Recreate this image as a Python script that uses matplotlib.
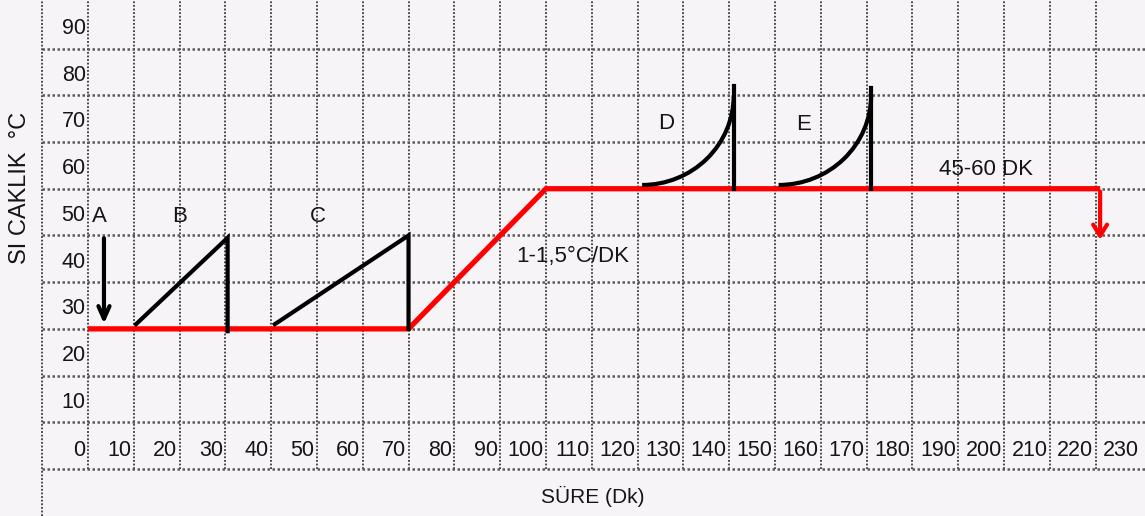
import numpy as np
import matplotlib.pyplot as plt
from matplotlib.patches import Arc

plt.rcParams['font.family'] = ['Liberation Sans', 'DejaVu Sans']

# eksen degerleri
x_ticks = list(range(0, 240, 10))
y_ticks = list(range(0, 100, 10))

# kirmizi ana egri (sure, sicaklik)
red_t = [0, 70, 100, 221]
red_T = [30, 30, 60, 60]
red_arrow = (221, 60, 48.5)  # t, baslangic, bitis

# A oku
a_arrow = (3.5, 50, 30.5)

# B ve C rampalari: (t0, T0, t1, T1, alt)
ramps = [(10.5, 31, 30.5, 49.5, 29.5),
         (40.8, 31, 70, 50, 30)]

# D ve E egrileri: (t0, T0, genislik, yukseklik, ust)
curves = [(121, 60.8, 20, 19.2, 82),
          (150.8, 60.8, 20.2, 19.2, 81.5)]

labels = [('A', 2.6, 54), ('B', 20.1, 54), ('C', 50.2, 54),
          ('D', 126.2, 73.9), ('E', 156.3, 73.7),
          ('1-1,5°C/DK', 105.9, 45.4), ('45-60 DK', 196, 64.2)]

bg = '#f6f4f7'
txt = '#151515'

fig = plt.figure(figsize=(11.45, 5.16), dpi=100, facecolor=bg)
ax = fig.add_axes([0, 0, 1, 1])
ax.set_facecolor(bg)
ax.set_xlim(-19.2, 230.8)
ax.set_ylim(-10.06, 100.4)
ax.axis('off')

# tablo cizgileri
for t in [-10] + x_ticks[:-1]:
    ybot = -10.06 if t == -10 else 0
    ax.plot([t, t], [ybot, 100.4], color='#3a3a3a', lw=1.3,
            ls=(0, (1, 1)), zorder=1)
for T in y_ticks:
    ax.plot([-10, 230.8], [T, T], color='#5a5a5a', lw=1.8,
            ls=(0, (1, 1)), zorder=1)

# etiketler
for T in y_ticks[1:]:
    ax.text(-0.5, T + 4.3, str(T), ha='right', va='center',
            fontsize=15.5, color=txt)
for t in x_ticks:
    ax.text(t - 0.5, 3.9, str(t), ha='right', va='center',
            fontsize=15.5, color=txt)

ax.text(110.3, -5.8, 'SÜRE (Dk)', ha='center', va='center',
        fontsize=15, color=txt)
ax.text(-14.9, 60.2, 'SI CAKLIK  °C', ha='center', va='center',
        rotation=90, fontsize=17, color=txt)

# kirmizi egri
ax.plot(red_t, red_T, color='#ff0000', lw=3.8, solid_capstyle='butt',
        solid_joinstyle='miter', zorder=3)
ax.annotate('', xy=(red_arrow[0], red_arrow[2]),
            xytext=(red_arrow[0], red_arrow[1]),
            arrowprops=dict(arrowstyle='->,head_length=0.8,head_width=0.5',
                            lw=3, color='#ff0000'), zorder=3)

# siyah sekiller
ax.annotate('', xy=(a_arrow[0], a_arrow[2]), xytext=(a_arrow[0], a_arrow[1]),
            arrowprops=dict(arrowstyle='->,head_length=0.9,head_width=0.4',
                            lw=3, color='black'), zorder=4)
for t0, T0, t1, T1, low in ramps:
    ax.plot([t0, t1, t1], [T0, T1, low], color='black', lw=3,
            solid_joinstyle='miter', zorder=4)
for t0, T0, w, h, top in curves:
    ax.add_patch(Arc((t0, T0 + h), 2 * w, 2 * h, theta1=270, theta2=360,
                     color='black', lw=3, zorder=4))
    ax.plot([t0 + w, t0 + w], [T0 - 0.8, top], color='black', lw=3, zorder=4)

for s, t, T in labels:
    ax.text(t, T, s, ha='center', va='center', fontsize=16, color=txt)

fig.savefig('out.png', dpi=100, facecolor=bg)
